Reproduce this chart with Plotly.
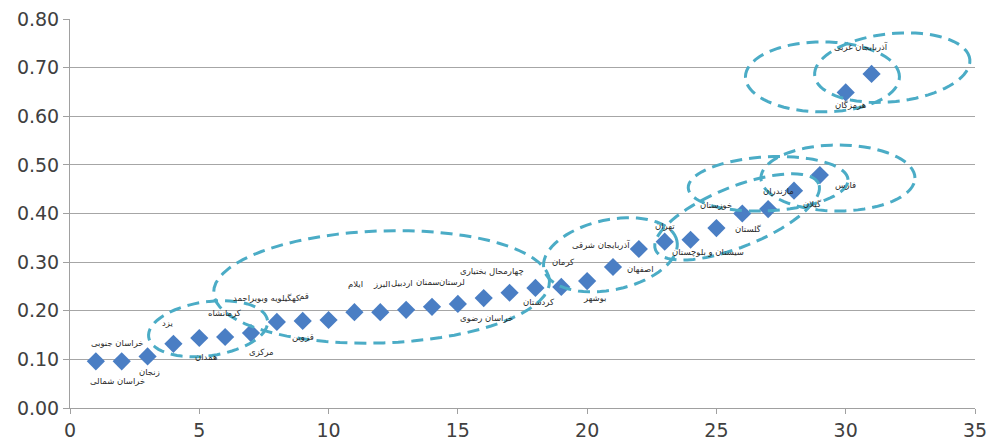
import math
import plotly.graph_objects as go

# ---- data ----
ranks = list(range(1, 32))
values = [0.096, 0.096, 0.106, 0.132, 0.144, 0.146, 0.154, 0.177, 0.179, 0.181,
          0.197, 0.197, 0.202, 0.208, 0.214, 0.226, 0.237, 0.247, 0.249, 0.261,
          0.290, 0.327, 0.342, 0.346, 0.370, 0.400, 0.409, 0.447, 0.479, 0.649, 0.687]
provinces = ["خراسان جنوبی", "خراسان شمالی", "زنجان", "یزد", "همدان", "کرمانشاه", "مرکزی",
             "کهگیلویه وبویراحمد", "قزوین", "قم", "ایلام", "البرز", "اردبیل", "سمنان", "لرستان",
             "چهارمحال بختیاری", "خراسان رضوی", "کردستان", "کرمان", "بوشهر", "آذربایجان شرقی",
             "اصفهان", "تهران", "سیستان و بلوچستان", "خوزستان", "گلستان", "مازندران", "گیلان",
             "فارس", "هرمزگان", "آذربایجان غربی"]
x_ticks = [0, 5, 10, 15, 20, 25, 30, 35]

# label offsets in pixels (right, down) from each point
label_dx = [22, -4, 2, -6, 7, 0, 10, -10, 0, -25, 1, 1, -4, -5, -6, 8, -23, 4, 2, 8, -12,
            2, 0, 17, 0, 6, 10, 18, 26, 5, -11]
label_dy = [-18, 20, 16, -21, 19, -24, 19, -24, 16, -23, -28, -28, -27, -25, -22, -27, 25,
            14, -25, 17, -22, 20, -16, 12, -23, 15, -18, 13, 10, 13, -27]

# grouping ellipses: centre (data units), semi-axes (px), tilt (deg)
ell_cx = [5.34, 12.05, 20.9, 25.8, 27.0, 29.7, 29.1, 31.8]
ell_cy = [0.163, 0.249, 0.315, 0.393, 0.461, 0.473, 0.681, 0.700]
ell_rx = [60, 168, 68, 88, 80, 77, 77, 78]
ell_ry = [27, 56, 35, 30, 27, 33, 35, 34]
ell_ang = [8, 2, 12, 22, 3, 0, 0, 6]

W, H = 990, 441
ML, MR, MT, MB = 70, 15, 19, 33
xs = (W - ML - MR) / 35.0
ys = (H - MT - MB) / 0.8

fig = go.Figure()
fig.add_trace(go.Scatter(
    x=ranks, y=values, mode="markers",
    marker=dict(symbol="diamond", size=14, color="#4A7EC4", line=dict(width=0)),
    hoverinfo="x+y", showlegend=False))

for i, name in enumerate(provinces):
    fig.add_annotation(x=ranks[i], y=values[i], text=name, showarrow=False,
                       xshift=label_dx[i], yshift=-label_dy[i],
                       font=dict(family="DejaVu Sans", size=8.5, color="#2a2a2a"))

for cx, cy, rx, ry, ang in zip(ell_cx, ell_cy, ell_rx, ell_ry, ell_ang):
    a = math.radians(ang)
    pts = []
    for k in range(73):
        t = 2 * math.pi * k / 72
        dx = rx * math.cos(t) * math.cos(a) - ry * math.sin(t) * math.sin(a)
        dy = rx * math.cos(t) * math.sin(a) + ry * math.sin(t) * math.cos(a)
        pts.append((cx + dx / xs, cy + dy / ys))
    path = "M " + " L ".join(f"{px:.4f},{py:.5f}" for px, py in pts) + " Z"
    fig.add_shape(type="path", path=path, xref="x", yref="y",
                  line=dict(color="#4BACC6", width=3, dash="12px,7px"))

fig.update_layout(
    width=W, height=H, margin=dict(l=ML, r=MR, t=MT, b=MB, autoexpand=False),
    paper_bgcolor="white", plot_bgcolor="white",
    font=dict(family="DejaVu Sans", size=19, color="#404040"),
)
fig.update_xaxes(range=[0, 35], tickvals=x_ticks, showgrid=False, zeroline=False,
                 automargin=False,
                 showline=True, linecolor="#A0A0A0", linewidth=1,
                 ticks="outside", ticklen=5, tickcolor="#A0A0A0", fixedrange=True)
fig.update_yaxes(range=[0, 0.8], dtick=0.1, tickformat=".2f", showgrid=True,
                 automargin=False,
                 gridcolor="#A6A6A6", gridwidth=1, zeroline=False,
                 showline=True, linecolor="#A0A0A0", linewidth=1,
                 ticks="outside", ticklen=6, tickcolor="#A0A0A0", fixedrange=True)

post = "document.body.style.margin='0';document.body.style.overflow='hidden';"
fig.write_html("out.html", config={"displayModeBar": False}, post_script=post)
